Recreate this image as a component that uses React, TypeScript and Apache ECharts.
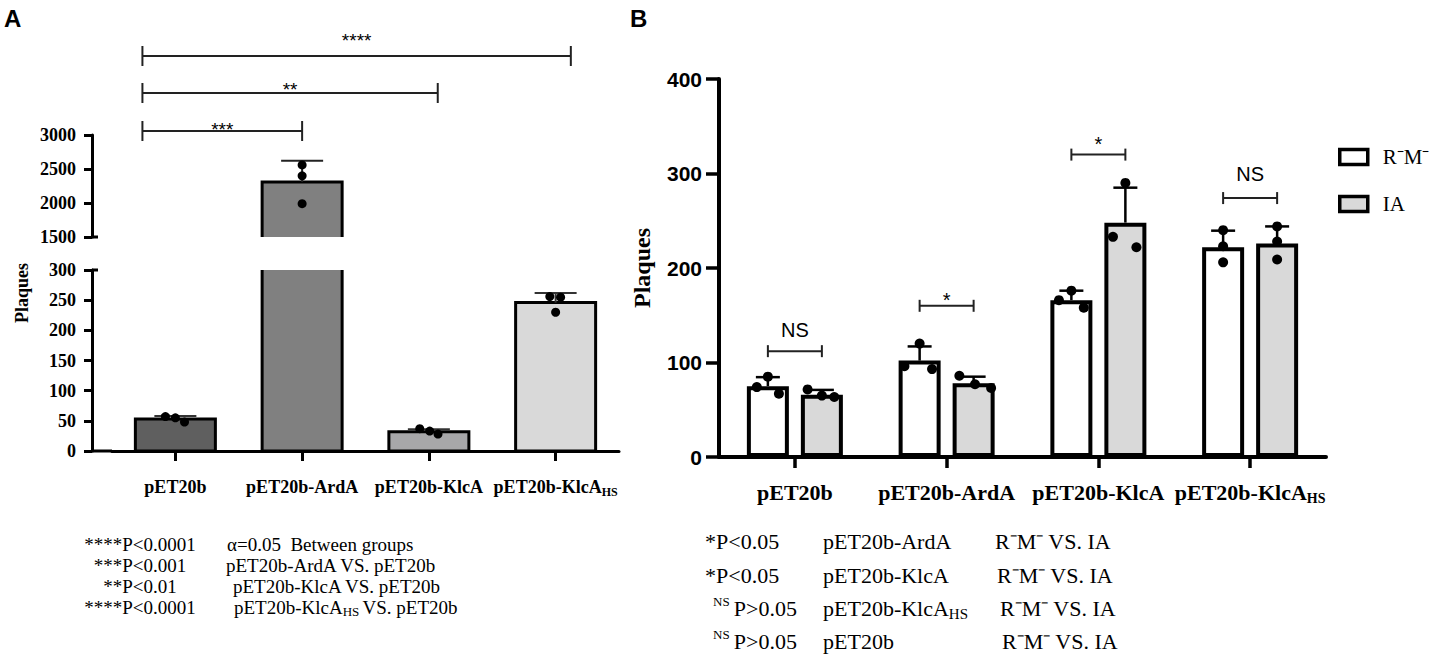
import React, { useEffect, useRef } from 'react';
import * as echarts from 'echarts';

// ---------------- Panel A data ----------------
const categories = ['pET20b', 'pET20b-ArdA', 'pET20b-KlcA', 'pET20b-KlcA_HS'];
const plaquesA = [53, 2310, 32, 246];
const sdA = [5, 310, 4, 16];
const replicatesA = [[57, 55, 48], [2560, 2400, 1990], [37, 33, 28], [256, 255, 230]];
const jitterA = [[-0.12, 0, 0.11], [0, 0, 0], [-0.11, 0.01, 0.11], [-0.07, 0.06, 0]];
const barColorsA = ['#5f5f5f', '#808080', '#a7a7a9', '#d9d9d9'];
const lowerAxisA = [0, 300, 50]; // min, max, interval
const upperAxisA = [1500, 3000, 500];

const sigFromA = [0, 0, 0];
const sigToA = [1, 2, 3];
const sigLevelA = [3059, 3618, 4162];
const sigLabelLevelA = [3088, 3676, 4397];
const sigTextA = ['***', '**', '****'];
const sigFromShiftA = [-0.26, -0.26, -0.26];
const sigToShiftA = [0, 0.07, 0.12];

const notesA = [
  ['****P<0.0001', 'α=0.05  Between groups'],
  ['***P<0.001', 'pET20b-ArdA VS. pET20b'],
  ['**P<0.01', 'pET20b-KlcA VS. pET20b'],
  ['****P<0.0001', 'pET20b-KlcA_HS VS. pET20b'],
];

// ---------------- Panel B data ----------------
const seriesNamesB = ['R⁻M⁻', 'IA'];
const plaquesRM = [75, 102, 166, 222];
const sdRM = [9.5, 15, 10, 17.5];
const plaquesIA = [66, 78, 248, 226];
const sdIA = [5, 7, 37, 18];
const replicatesRM = [[85, 74, 67], [120, 96, 93], [176, 166, 158], [240, 223, 206]];
const jitterRM = [[0, -0.24, 0.24], [0, -0.33, 0.27], [0, -0.27, 0.27], [0, 0, 0]];
const replicatesIA = [[71.5, 65, 63.5], [86, 77, 73], [290, 233, 222], [244, 228, 209]];
const jitterIA = [[-0.31, 0, 0.27], [-0.31, 0.03, 0.38], [0, -0.27, 0.24], [0, 0, 0]];
const axisB = [0, 400, 100];
const sigLevelB = [112, 160, 320, 274];
const sigLabelLevelB = [134, 166, 331, 300];
const sigTextB = ['NS', '*', '*', 'NS'];

const notesB = [
  ['*P<0.05', 'pET20b-ArdA', 'R⁻M⁻ VS. IA'],
  ['*P<0.05', 'pET20b-KlcA', 'R⁻M⁻ VS. IA'],
  ['^NS P>0.05', 'pET20b-KlcA_HS', 'R⁻M⁻ VS. IA'],
  ['^NS P>0.05', 'pET20b', 'R⁻M⁻ VS. IA'],
];

// ---------------- layout / style ----------------
const SERIF = '"Liberation Serif", "Times New Roman", serif';
const SANS = '"Liberation Sans", Arial, sans-serif';

const A_LEFT = 112, A_W = 507, A_OFF = 20;
const A_UP_TOP = 135, A_UP_H = 102;
const A_LO_TOP = 270, A_LO_H = 181;
const A_BAR = 80, A_BORDER = 3;
const B_LEFT = 719, B_TOP = 79, B_W = 607, B_H = 378;
const B_BAR = 42, B_BORDER = 4, B_GAP = 12;
const B_OFF = (B_BAR + B_GAP) / 2;

function richSub(s: string, m: string, sb: string): string {
  const i = s.indexOf('_');
  if (i < 0) return `{${m}|${s}}`;
  const rest = s.slice(i + 1);
  const j = rest.indexOf(' ');
  const subTxt = j < 0 ? rest : rest.slice(0, j);
  const after = j < 0 ? '' : rest.slice(j + 1);
  return `{${m}|${s.slice(0, i)}}{${sb}|${subTxt}${after ? ' ' : ''}}` + (after ? `{${m}|${after}}` : '');
}

function richSup(s: string, m: string, sp: string): string {
  if (!s.startsWith('^')) return `{${m}|${s}}`;
  const body = s.slice(1);
  const j = body.indexOf(' ');
  return `{${sp}|${body.slice(0, j)} }{${m}|${body.slice(j + 1)}}`;
}

function dotItems(reps: number[][], jit: number[][], keep: (v: number) => boolean) {
  const out: number[][] = [];
  reps.forEach((arr, c) => arr.forEach((v, k) => { if (keep(v)) out.push([c, v, jit[c][k]]); }));
  return out;
}

function dotSeries(xi: number, yi: number, data: number[][], off: number, barOuter: number, r: number) {
  return {
    type: 'custom', xAxisIndex: xi, yAxisIndex: yi, z: 6, silent: true, data,
    renderItem: (params: any, api: any) => {
      const p = api.coord([api.value(0), api.value(1)]);
      return { type: 'circle', shape: { cx: p[0] + off + api.value(2) * barOuter, cy: p[1], r }, style: { fill: '#000' } };
    },
  };
}

function errSeries(xi: number, yi: number, data: number[][], off: number, capW: number, lw: number, color: string) {
  return {
    type: 'custom', xAxisIndex: xi, yAxisIndex: yi, z: 5, silent: true, data,
    renderItem: (params: any, api: any) => {
      const c = api.value(0), m = api.value(1), s = api.value(2);
      const p0 = api.coord([c, m]);
      const p1 = api.coord([c, m + s]);
      const x = p0[0] + off;
      const st = { stroke: color, lineWidth: lw };
      return {
        type: 'group', children: [
          { type: 'line', shape: { x1: x, y1: p0[1], x2: x, y2: p1[1] }, style: st },
          { type: 'line', shape: { x1: x - capW / 2, y1: p1[1], x2: x + capW / 2, y2: p1[1] }, style: st },
        ],
      };
    },
  };
}

// bars of the broken-axis panel: a rectangle from 0 to the value, clipped to each axis segment
function brokenBarSeries(xi: number, yi: number, data: number[][]) {
  return {
    type: 'custom', xAxisIndex: xi, yAxisIndex: yi, z: 2, clip: true, silent: true, data,
    renderItem: (params: any, api: any) => {
      const c = api.value(0), v = api.value(1);
      const top = api.coord([c, v]);
      const base = api.coord([c, 0]);
      return {
        type: 'rect',
        shape: { x: top[0] - A_BAR / 2, y: top[1], width: A_BAR, height: base[1] - top[1] },
        style: { fill: barColorsA[c], stroke: '#000', lineWidth: A_BORDER },
      };
    },
  };
}

function textEl(x: number, y: number, text: string, font: string, align: string, rich?: any) {
  return {
    type: 'text', x, y, silent: true,
    style: {
      text, font, fill: '#000', rich,
      textAlign: align, align, textVerticalAlign: 'middle', verticalAlign: 'middle',
    },
  };
}

function buildOption(): any {
  const lowMax = lowerAxisA[1];
  const upMin = upperAxisA[0];

  const axisLineA = { show: true, lineStyle: { color: '#000', width: 3 } };
  const axisLabelYA = { fontFamily: SERIF, fontWeight: 'bold', fontSize: 18, color: '#000', margin: 16, formatter: (v: number) => String(v) };

  const richXA = {
    b: { fontFamily: SERIF, fontWeight: 'bold', fontSize: 18, lineHeight: 22, color: '#000' },
    s: { fontFamily: SERIF, fontWeight: 'bold', fontSize: 12, lineHeight: 12, verticalAlign: 'bottom', color: '#000' },
  };
  const richXB = {
    b: { fontFamily: SERIF, fontWeight: 'bold', fontSize: 22, lineHeight: 26, color: '#000' },
    s: { fontFamily: SERIF, fontWeight: 'bold', fontSize: 14, lineHeight: 14, verticalAlign: 'bottom', color: '#000' },
  };
  const richNoteA = {
    n: { fontFamily: SERIF, fontSize: 19, lineHeight: 22, color: '#000' },
    s: { fontFamily: SERIF, fontSize: 13, lineHeight: 13, verticalAlign: 'bottom', color: '#000' },
  };
  const richNoteB = {
    n: { fontFamily: SERIF, fontSize: 22, lineHeight: 26, color: '#000' },
    s: { fontFamily: SERIF, fontSize: 15, lineHeight: 15, verticalAlign: 'bottom', color: '#000' },
    p: { fontFamily: SERIF, fontSize: 13, lineHeight: 13, verticalAlign: 'top', color: '#000', padding: [0, 1, 0, 0] },
  };

  const notesAY = [544, 565, 586, 607];
  const notesAX2 = [227, 226, 233, 234];
  const notesBY = [541, 575, 608, 641];
  const notesBX1 = [705, 705, 713, 713];
  const notesBX3 = [995, 997, 1000, 1002];

  const graphics: any[] = [
    textEl(4, 18, 'A', `bold 24px ${SANS}`, 'left'),
    textEl(630, 18, 'B', `bold 24px ${SANS}`, 'left'),
    { ...textEl(22, 293, 'Plaques', `bold 18px ${SERIF}`, 'center'), rotation: Math.PI / 2 },
    { ...textEl(642, 268, 'Plaques', `bold 24px ${SERIF}`, 'center'), rotation: Math.PI / 2 },
    // x-axis joins the offset y-axis; axis-break marks
    { type: 'line', silent: true, shape: { x1: A_LEFT - A_OFF, y1: A_LO_TOP + A_LO_H, x2: A_LEFT, y2: A_LO_TOP + A_LO_H }, style: { stroke: '#000', lineWidth: 3 } },
    { type: 'line', silent: true, shape: { x1: A_LEFT - A_OFF, y1: A_UP_TOP + A_UP_H, x2: A_LEFT - A_OFF + 6, y2: A_UP_TOP + A_UP_H }, style: { stroke: '#000', lineWidth: 3 } },
    { type: 'line', silent: true, shape: { x1: A_LEFT - A_OFF, y1: A_LO_TOP, x2: A_LEFT - A_OFF + 6, y2: A_LO_TOP }, style: { stroke: '#000', lineWidth: 3 } },
  ];
  notesA.forEach((row, i) => {
    graphics.push(textEl(140, notesAY[i], row[0], `19px ${SERIF}`, 'center'));
    graphics.push(textEl(notesAX2[i], notesAY[i], richSub(row[1], 'n', 's'), `19px ${SERIF}`, 'left', richNoteA));
  });
  notesB.forEach((row, i) => {
    graphics.push(textEl(notesBX1[i], notesBY[i], richSup(row[0], 'n', 'p'), `22px ${SERIF}`, 'left', richNoteB));
    graphics.push(textEl(823, notesBY[i], richSub(row[1], 'n', 's'), `22px ${SERIF}`, 'left', richNoteB));
    graphics.push(textEl(notesBX3[i], notesBY[i], row[2], `22px ${SERIF}`, 'left'));
  });

  const series: any[] = [];
  // Panel A bars (upper segment and lower segment of the broken axis)
  const barItemsA = plaquesA.map((v, c) => [c, v]);
  series.push(brokenBarSeries(0, 0, barItemsA.filter((d) => d[1] > upMin)));
  series.push(brokenBarSeries(1, 1, barItemsA));
  const errA = plaquesA.map((m, c) => [c, m, sdA[c]]);
  series.push(errSeries(0, 0, errA.filter((d) => d[1] >= upMin), 0, 42, 2, '#222'));
  series.push(errSeries(1, 1, errA.filter((d) => d[1] <= lowMax), 0, 42, 2, '#333'));
  series.push(dotSeries(0, 0, dotItems(replicatesA, jitterA, (v) => v >= upMin), 0, A_BAR + A_BORDER, 4.5));
  series.push(dotSeries(1, 1, dotItems(replicatesA, jitterA, (v) => v <= lowMax), 0, A_BAR + A_BORDER, 4.5));
  // Panel A significance brackets
  series.push({
    type: 'custom', xAxisIndex: 0, yAxisIndex: 0, clip: false, z: 7, silent: true,
    data: sigFromA.map((f, i) => [f, sigLevelA[i], sigToA[i], sigLabelLevelA[i], sigFromShiftA[i], sigToShiftA[i]]),
    renderItem: (params: any, api: any) => {
      const i = params.dataIndex;
      const band = api.size([1, 0])[0];
      const a = api.coord([api.value(0), api.value(1)]);
      const b = api.coord([api.value(2), api.value(1)]);
      const ty = api.coord([api.value(0), api.value(3)])[1];
      const x1 = a[0] + api.value(4) * band;
      const x2 = b[0] + api.value(5) * band;
      const y = a[1];
      const st = { stroke: '#222', lineWidth: 2 };
      return {
        type: 'group', children: [
          { type: 'line', shape: { x1, y1: y, x2, y2: y }, style: st },
          { type: 'line', shape: { x1, y1: y - 10, x2: x1, y2: y + 10 }, style: st },
          { type: 'line', shape: { x1: x2, y1: y - 10, x2, y2: y + 10 }, style: st },
          textEl((x1 + x2) / 2, ty, sigTextA[i], `19px ${SANS}`, 'center'),
        ],
      };
    },
  });

  // Panel B bars
  series.push({
    type: 'bar', name: seriesNamesB[0], xAxisIndex: 2, yAxisIndex: 2, barWidth: B_BAR, barGap: `${(B_GAP / B_BAR) * 100}%`,
    data: plaquesRM, silent: true,
    itemStyle: { color: '#ffffff', borderColor: '#000', borderWidth: B_BORDER },
  });
  series.push({
    type: 'bar', name: seriesNamesB[1], xAxisIndex: 2, yAxisIndex: 2, barWidth: B_BAR, barGap: `${(B_GAP / B_BAR) * 100}%`,
    data: plaquesIA, silent: true,
    itemStyle: { color: '#d9d9d9', borderColor: '#000', borderWidth: B_BORDER },
  });
  series.push(errSeries(2, 2, plaquesRM.map((m, c) => [c, m, sdRM[c]]), -B_OFF, 24, 2.5, '#000'));
  series.push(errSeries(2, 2, plaquesIA.map((m, c) => [c, m, sdIA[c]]), B_OFF, 24, 2.5, '#000'));
  series.push(dotSeries(2, 2, dotItems(replicatesRM, jitterRM, () => true), -B_OFF, B_BAR + B_BORDER, 5));
  series.push(dotSeries(2, 2, dotItems(replicatesIA, jitterIA, () => true), B_OFF, B_BAR + B_BORDER, 5));
  series.push({
    type: 'custom', xAxisIndex: 2, yAxisIndex: 2, clip: false, z: 7, silent: true,
    data: sigLevelB.map((lv, c) => [c, lv, sigLabelLevelB[c]]),
    renderItem: (params: any, api: any) => {
      const i = params.dataIndex;
      const a = api.coord([api.value(0), api.value(1)]);
      const ty = api.coord([api.value(0), api.value(2)])[1];
      const x1 = a[0] - B_OFF, x2 = a[0] + B_OFF, y = a[1];
      const st = { stroke: '#222', lineWidth: 2 };
      return {
        type: 'group', children: [
          { type: 'line', shape: { x1, y1: y, x2, y2: y }, style: st },
          { type: 'line', shape: { x1, y1: y - 6, x2: x1, y2: y + 6 }, style: st },
          { type: 'line', shape: { x1: x2, y1: y - 6, x2, y2: y + 6 }, style: st },
          textEl((x1 + x2) / 2, ty, sigTextB[i], `20px ${SANS}`, 'center'),
        ],
      };
    },
  });

  return {
    animation: false,
    backgroundColor: '#ffffff',
    grid: [
      { left: A_LEFT, top: A_UP_TOP, width: A_W, height: A_UP_H },
      { left: A_LEFT, top: A_LO_TOP, width: A_W, height: A_LO_H },
      { left: B_LEFT, top: B_TOP, width: B_W, height: B_H },
    ],
    xAxis: [
      { gridIndex: 0, type: 'category', data: categories, show: false },
      {
        gridIndex: 1, type: 'category', data: categories,
        axisLine: axisLineA,
        axisTick: { show: true, alignWithLabel: true, length: 10, lineStyle: { color: '#000', width: 3 } },
        axisLabel: { interval: 0, margin: 25, formatter: (v: string) => richSub(v, 'b', 's'), rich: richXA },
      },
      {
        gridIndex: 2, type: 'category', data: categories,
        axisLine: { show: true, lineStyle: { color: '#000', width: 4 } },
        axisTick: { show: true, alignWithLabel: true, length: 11, lineStyle: { color: '#000', width: 3.5 } },
        axisLabel: { interval: 0, margin: 22, formatter: (v: string) => richSub(v, 'b', 's'), rich: richXB },
      },
    ],
    yAxis: [
      {
        gridIndex: 0, type: 'value', min: upperAxisA[0], max: upperAxisA[1], interval: upperAxisA[2], offset: A_OFF,
        axisLine: axisLineA, axisTick: { show: true, length: 8, lineStyle: { color: '#000', width: 3 } },
        axisLabel: axisLabelYA, splitLine: { show: false },
      },
      {
        gridIndex: 1, type: 'value', min: lowerAxisA[0], max: lowerAxisA[1], interval: lowerAxisA[2], offset: A_OFF,
        axisLine: axisLineA, axisTick: { show: true, length: 8, lineStyle: { color: '#000', width: 3 } },
        axisLabel: axisLabelYA, splitLine: { show: false },
      },
      {
        gridIndex: 2, type: 'value', min: axisB[0], max: axisB[1], interval: axisB[2],
        axisLine: { show: true, lineStyle: { color: '#000', width: 4 } },
        axisTick: { show: true, length: 13, lineStyle: { color: '#000', width: 3.5 } },
        axisLabel: { fontFamily: SANS, fontWeight: 'bold', fontSize: 21, color: '#000', margin: 17 },
        splitLine: { show: false },
      },
    ],
    legend: {
      data: seriesNamesB, orient: 'vertical', left: 1333, top: 140, icon: 'rect',
      itemWidth: 28, itemHeight: 15, itemGap: 23, selectedMode: false,
      itemStyle: { borderColor: '#000', borderWidth: 3.5 },
      textStyle: { fontFamily: SERIF, fontSize: 21, lineHeight: 24, color: '#000', padding: [0, 0, 0, 10] },
    },
    graphic: graphics,
    series,
  };
}

export default function App() {
  const ref = useRef<HTMLDivElement>(null);
  useEffect(() => {
    document.body.style.margin = '0';
    const chart = echarts.init(ref.current as HTMLDivElement, undefined, { renderer: 'svg' });
    chart.setOption(buildOption());
    return () => chart.dispose();
  }, []);
  return <div ref={ref} style={{ width: 1433, height: 658, background: '#ffffff' }} />;
}
